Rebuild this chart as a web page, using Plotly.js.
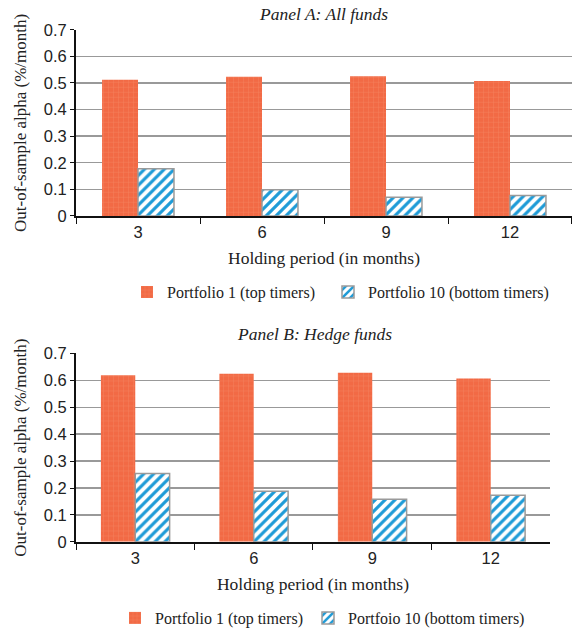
<!DOCTYPE html>
<html>
<head>
<meta charset="utf-8">
<script src="https://cdn.plot.ly/plotly-3.0.1.min.js"></script>
<style>html,body{margin:0;padding:0;background:#fff;}#chart{width:572px;height:635px;}</style>
</head>
<body>
<div id="chart"></div>
<script>
const categories = ["3", "6", "9", "12"];
const panelA_top = [0.512, 0.523, 0.525, 0.507];
const panelA_bottom = [0.177, 0.098, 0.070, 0.077];
const panelB_top = [0.619, 0.625, 0.628, 0.607];
const panelB_bottom = [0.254, 0.188, 0.158, 0.173];
const yTicks = [0, 0.1, 0.2, 0.3, 0.4, 0.5, 0.6, 0.7];
const yTickText = ["0", "0.1", "0.2", "0.3", "0.4", "0.5", "0.6", "0.7"];
const seriesNamesA = ["Portfolio 1 (top timers)", "Portfolio 10 (bottom timers)"];
const seriesNamesB = ["Portfolio 1 (top timers)", "Portfoio 10 (bottom timers)"];

const orange = "#F26A45";
const blue = "#1E9BD7";

function topTrace(y, name, xa, ya, leg) {
  return {
    type: "bar", x: categories, y: y, name: name, xaxis: xa, yaxis: ya, legend: leg,
    marker: {
      color: orange,
      line: {width: 0},
      pattern: {shape: "+", fgcolor: "#F7A080", bgcolor: orange, size: 5, solidity: 0.15, fgopacity: 0.5}
    },
    hoverinfo: "skip"
  };
}
function botTrace(y, name, xa, ya, leg) {
  return {
    type: "bar", x: categories, y: y, name: name, xaxis: xa, yaxis: ya, legend: leg,
    marker: {
      color: "#ffffff",
      line: {width: 1.5, color: "#9a9a9a"},
      pattern: {shape: "/", fgcolor: blue, bgcolor: "#ffffff", size: 7, solidity: 0.45, fgopacity: 1}
    },
    hoverinfo: "skip"
  };
}

const data = [
  topTrace(panelA_top, seriesNamesA[0], "x", "y", "legend"),
  botTrace(panelA_bottom, seriesNamesA[1], "x", "y", "legend2"),
  topTrace(panelB_top, seriesNamesB[0], "x2", "y2", "legend3"),
  botTrace(panelB_bottom, seriesNamesB[1], "x2", "y2", "legend4")
];

const tickFont = {family: "Liberation Sans, Arial, sans-serif", size: 16.5, color: "#222"};
const serif = "Liberation Serif, Times New Roman, serif";

function xAxis(domain, anchor) {
  return {
    domain: domain, anchor: anchor, type: "category",
    showline: true, linecolor: "#111", linewidth: 2.5,
    ticks: "outside", tickson: "boundaries", ticklen: 6, tickcolor: "#111", tickwidth: 1,
    tickfont: tickFont, showgrid: false, zeroline: false, fixedrange: true,
    title: {text: "Holding period (in months)", font: {family: serif, size: 17.5, color: "#222"}, standoff: 12}
  };
}
function yAxis(domain, anchor) {
  return {
    domain: domain, anchor: anchor, range: [0, 0.7],
    tickvals: yTicks, ticktext: yTickText,
    showline: true, linecolor: "#111", linewidth: 2,
    ticks: "outside", ticklen: 4, tickcolor: "#111", tickwidth: 1,
    tickfont: tickFont, showgrid: true, gridcolor: "#999", gridwidth: 1.5,
    zeroline: false, fixedrange: true,
    title: {text: "Out-of-sample alpha (%/month)", font: {family: serif, size: 17, color: "#222"}, standoff: 13}
  };
}

function legendAt(xpx, ypx) {
  return {
    orientation: "v", x: xpx / 572, xanchor: "left", y: (635 - ypx) / 635, yanchor: "middle",
    font: {family: serif, size: 16, color: "#222"}, itemwidth: 30,
    bgcolor: "rgba(0,0,0,0)", borderwidth: 0
  };
}

const layout = {
  width: 572, height: 635,
  margin: {l: 0, r: 0, t: 0, b: 0},
  paper_bgcolor: "#fff", plot_bgcolor: "#fff",
  barmode: "group", bargap: 0.42, bargroupgap: 0,
  showlegend: true,
  xaxis: xAxis([0.1329, 1.0], "y"),
  yaxis: yAxis([0.6578, 0.9528], "x"),
  xaxis2: xAxis([0.1329, 0.9615], "y2"),
  yaxis2: yAxis([0.1413, 0.4398], "x2"),
  legend: legendAt(127, 294),
  legend2: legendAt(328, 294),
  legend3: legendAt(115, 622),
  legend4: legendAt(308, 622),
  annotations: [
    {text: "<i>Panel A: All funds</i>", xref: "paper", yref: "paper", x: 0.566, y: (635 - 14) / 635,
     xanchor: "center", yanchor: "middle", showarrow: false, font: {family: serif, size: 17.5, color: "#222"}},
    {text: "<i>Panel B: Hedge funds</i>", xref: "paper", yref: "paper", x: 0.549, y: (635 - 336) / 635,
     xanchor: "center", yanchor: "middle", showarrow: false, font: {family: serif, size: 17.5, color: "#222"}}
  ]
};

Plotly.newPlot("chart", data, layout, {staticPlot: true, displayModeBar: false});
</script>
</body>
</html>
